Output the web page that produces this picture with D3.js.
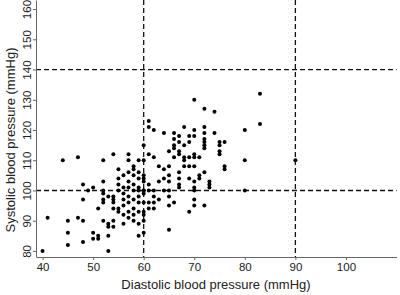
<!DOCTYPE html>
<html>
<head>
<meta charset="utf-8">
<script src="https://cdn.jsdelivr.net/npm/d3@7"></script>
<style>
  body { margin: 0; background: #fff; }
  svg { display: block; font-family: "Liberation Sans", Arial, sans-serif; }
</style>
</head>
<body>
<div id="container"></div>
<script>
// diastolic (x) and systolic (y) pressure of each subject, mmHg
let dbp = [
  40, 41, 44, 45, 45, 45, 47, 47, 48, 48, 48, 48, 49, 50, 50, 50,
  51, 51, 51, 52, 52, 52, 52, 52, 52, 52, 53, 53, 53, 53, 53,
  54, 54, 54, 54, 54, 54, 54, 55, 55, 55, 55, 55, 55,
  56, 56, 56, 56, 56, 56, 56, 57, 57, 57, 57, 57, 57, 57, 57, 57,
  58, 58, 58, 58, 58, 58, 58, 58, 58, 59, 59, 59, 59, 59, 59, 59, 59, 59, 59,
  60, 60, 60, 60, 60, 60, 60, 60, 60, 60, 60, 60, 60,
  61, 61, 61, 61, 61, 61, 61, 62, 62, 62, 62, 62, 62, 63, 63, 63,
  64, 64, 64, 64, 65, 65, 65, 65, 65, 65, 65, 65,
  66, 66, 66, 66, 66, 66, 67, 67, 67, 67, 67, 67, 67, 67,
  68, 68, 68, 68, 68, 69, 69, 69, 69, 69, 69,
  70, 70, 70, 70, 70, 70, 70, 70, 70, 70, 70, 71, 71, 71,
  72, 72, 72, 72, 72, 72, 72, 72, 72, 73, 73, 73, 74, 74,
  75, 75, 75, 75, 76, 76, 76, 80, 80, 80, 83, 83, 90
];
let sbp = [
  80, 91, 110, 90, 86, 82, 111, 91, 102, 97, 90, 83, 100, 101, 86, 84,
  94, 85, 84, 110, 103, 100, 99, 97, 96, 90, 98, 89, 88, 85, 80,
  112, 98, 97, 96, 94, 90, 88, 107, 104, 102, 100, 94, 93,
  105, 101, 99, 97, 95, 92, 89, 112, 110, 106, 103, 101, 98, 96, 93, 91,
  108, 107, 105, 102, 100, 97, 94, 92, 90, 110, 106, 104, 101, 100, 98, 96, 93, 89, 85,
  115, 110, 105, 104, 103, 100, 100, 99, 96, 93, 92, 90, 86,
  123, 121, 112, 102, 100, 96, 94, 120, 111, 100, 98, 96, 94, 108, 103, 97,
  119, 107, 104, 100, 113, 108, 105, 103, 100, 98, 95, 87,
  119, 117, 115, 114, 111, 96, 118, 116, 113, 112, 106, 104, 102, 101,
  121, 115, 111, 110, 108, 118, 116, 111, 108, 104, 93,
  130, 120, 118, 111, 108, 103, 101, 100, 97, 95, 112, 111, 104, 105,
  127, 121, 119, 117, 116, 115, 114, 106, 95, 103, 102, 101, 126, 119,
  116, 115, 113, 112, 116, 108, 107, 120, 110, 100, 132, 122, 110
];
let xTicks = [40, 50, 60, 70, 80, 90, 100];
let yTicks = [80, 90, 100, 110, 120, 130, 140, 150, 160];
let xRefs = [60, 90];
let yRefs = [100, 140];

let w = 400;
let h = 295;

let viz = d3.select("#container")
  .append("svg")
    .attr("width", w)
    .attr("height", h)
;

let xScale = d3.scaleLinear().domain([38.7, 110]).range([36, 396.5]);
let yScale = d3.scaleLinear().domain([78, 163]).range([257, 0]);

// reference lines
viz.selectAll(".xref").data(xRefs).enter()
  .append("line")
    .attr("x1", d => xScale(d)).attr("x2", d => xScale(d))
    .attr("y1", yScale.range()[1]).attr("y2", yScale.range()[0])
    .attr("stroke", "#111")
    .attr("stroke-width", 1.3)
    .attr("stroke-dasharray", "5,3")
;
viz.selectAll(".yref").data(yRefs).enter()
  .append("line")
    .attr("x1", xScale.range()[0]).attr("x2", xScale.range()[1])
    .attr("y1", d => yScale(d)).attr("y2", d => yScale(d))
    .attr("stroke", "#111")
    .attr("stroke-width", 1.3)
    .attr("stroke-dasharray", "5,3")
;

// axes
let xAxis = d3.axisBottom(xScale).tickValues(xTicks).tickSize(3).tickSizeOuter(0).tickPadding(3);
let xAxisGroup = viz.append("g")
    .attr("transform", "translate(0," + yScale.range()[0] + ")")
    .call(xAxis);

let yAxis = d3.axisLeft(yScale).tickValues(yTicks).tickSize(3).tickSizeOuter(0);
let yAxisGroup = viz.append("g")
    .attr("transform", "translate(" + xScale.range()[0] + ",0)")
    .call(yAxis);

yAxisGroup.selectAll(".tick text")
    .attr("transform", "rotate(-90)")
    .attr("x", 0)
    .attr("y", -5.5)
    .attr("dy", 0)
    .attr("text-anchor", "middle");

[xAxisGroup, yAxisGroup].forEach(function(g){
  g.select(".domain").attr("stroke", "#666").attr("stroke-width", 1);
  g.selectAll(".tick line").attr("stroke", "#666");
  g.selectAll(".tick text")
    .attr("fill", "#222")
    .style("font-size", "11.5px")
    .style("font-family", "'Liberation Sans', Arial, sans-serif");
});

// points
let points = dbp.map(function(d, i){ return { d: d, s: sbp[i] }; });
viz.selectAll(".dot").data(points).enter()
  .append("circle")
    .attr("cx", p => xScale(p.d))
    .attr("cy", p => yScale(p.s))
    .attr("r", 2)
    .attr("fill", "#000")
;

// titles
viz.append("text")
    .attr("x", 216)
    .attr("y", 289)
    .attr("text-anchor", "middle")
    .style("font-size", "13px")
    .attr("fill", "#222")
    .text("Diastolic blood pressure (mmHg)");

viz.append("text")
    .attr("transform", "translate(14.5,140) rotate(-90)")
    .attr("text-anchor", "middle")
    .style("font-size", "13px")
    .attr("fill", "#222")
    .text("Systolic blood pressure (mmHg)");
</script>
</body>
</html>
